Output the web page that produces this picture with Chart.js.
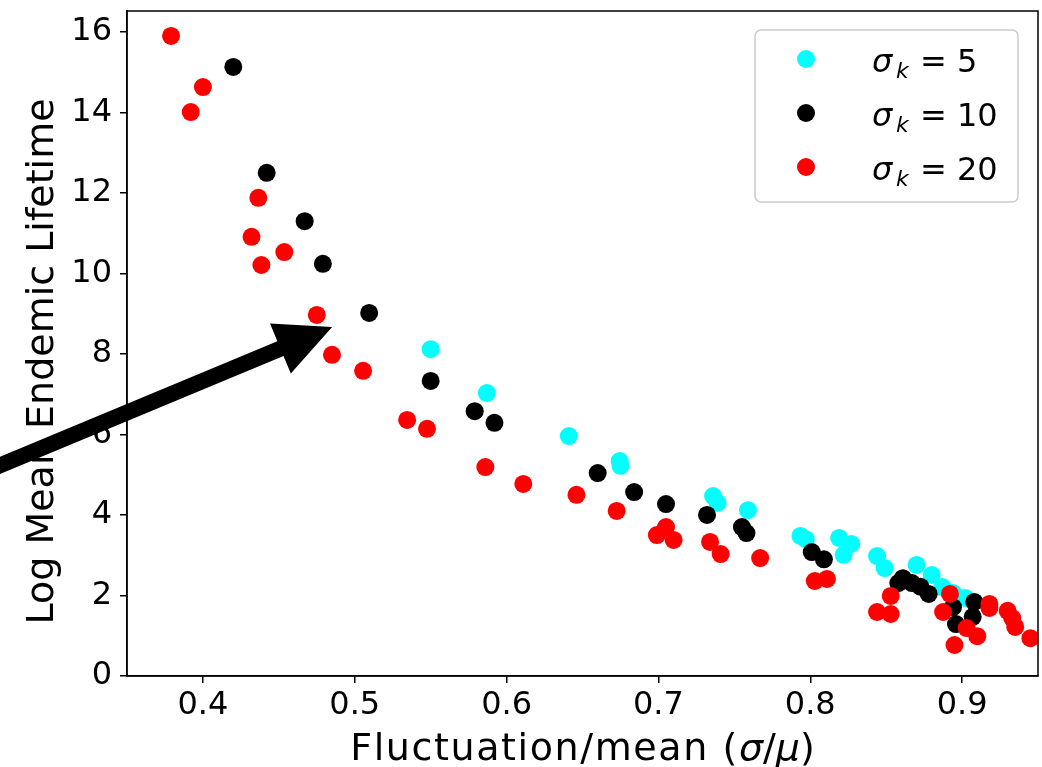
<!DOCTYPE html>
<html>
<head>
<meta charset="utf-8">
<script src="https://cdn.jsdelivr.net/npm/chart.js@4.4.1/dist/chart.umd.min.js"></script>
<style>
  html, body { margin: 0; padding: 0; background: #fff; }
  #wrap { width: 1042px; height: 767px; }
</style>
</head>
<body>
<div id="wrap"><canvas id="grafico"></canvas></div>
<script>
// Datos (x = sigma/mu, y = log del tiempo de vida medio)
const cianX = [0.550, 0.587, 0.641, 0.6745, 0.675, 0.736, 0.739, 0.759, 0.7935, 0.797, 0.819, 0.827, 0.822, 0.844, 0.849, 0.870, 0.880, 0.887, 0.894, 0.902];
const cianY = [8.12, 7.03, 5.96, 5.34, 5.22, 4.47, 4.30, 4.12, 3.48, 3.40, 3.43, 3.28, 3.01, 2.98, 2.68, 2.76, 2.51, 2.21, 2.06, 1.94];

const negroX = [0.420, 0.442, 0.467, 0.479, 0.5095, 0.550, 0.579, 0.592, 0.660, 0.684, 0.705, 0.732, 0.755, 0.758, 0.801, 0.809, 0.861, 0.858, 0.867, 0.8725, 0.878, 0.894, 0.896, 0.908, 0.907];
const negroY = [15.13, 12.50, 11.30, 10.24, 9.02, 7.33, 6.58, 6.29, 5.04, 4.57, 4.27, 4.00, 3.70, 3.55, 3.08, 2.90, 2.43, 2.31, 2.31, 2.22, 2.04, 1.71, 1.29, 1.84, 1.47];

const rojoX = [0.379, 0.392, 0.400, 0.432, 0.4365, 0.4385, 0.4536, 0.475, 0.485, 0.5055, 0.5345, 0.5476, 0.586, 0.611, 0.646, 0.6725, 0.699, 0.705, 0.710, 0.734, 0.741, 0.767, 0.803, 0.811, 0.853, 0.844, 0.853, 0.892, 0.8875, 0.895, 0.903, 0.910, 0.918, 0.918, 0.930, 0.933, 0.935, 0.945];
const rojoY = [15.90, 14.01, 14.63, 10.91, 11.88, 10.21, 10.53, 8.97, 7.98, 7.58, 6.36, 6.14, 5.19, 4.77, 4.50, 4.10, 3.50, 3.70, 3.38, 3.33, 3.03, 2.93, 2.36, 2.41, 1.99, 1.59, 1.54, 2.04, 1.59, 0.77, 1.19, 0.99, 1.79, 1.69, 1.62, 1.44, 1.22, 0.94];

const series = [
  { etiqueta: '5', xs: cianX, ys: cianY, color: '#00ffff' },
  { etiqueta: '10', xs: negroX, ys: negroY, color: '#000000' },
  { etiqueta: '20', xs: rojoX, ys: rojoY, color: '#ff0000' }
];

const ticksX = [0.4, 0.5, 0.6, 0.7, 0.8, 0.9];
const ticksY = [0, 2, 4, 6, 8, 10, 12, 14, 16];

// Flecha de anotacion (cola -> punta), en coordenadas de datos
const flechaCola = [0.2669, 5.24];
const flechaPunta = [0.4851, 8.67];

const FUENTE = 'DejaVu Sans';

const datasets = series.map((s, i) => ({
  label: s.etiqueta,
  data: s.xs.map((x, j) => ({ x: x, y: s.ys[j] })),
  backgroundColor: s.color,
  borderColor: s.color,
  borderWidth: 0,
  pointRadius: 9,
  pointHoverRadius: 9,
  order: series.length - i // el rojo queda encima
}));

// Marco, titulos, leyenda y flecha
const decoraciones = {
  id: 'decoraciones',
  afterDraw(chart) {
    const ctx = chart.ctx;
    const ca = chart.chartArea;
    const sx = chart.scales.x;
    const sy = chart.scales.y;

    // marco del eje
    ctx.save();
    ctx.strokeStyle = '#000';
    ctx.lineWidth = 1.5;
    ctx.strokeRect(ca.left, ca.top, ca.right - ca.left, ca.bottom - ca.top);
    ctx.restore();

    // titulo eje Y
    ctx.save();
    ctx.fillStyle = '#000';
    ctx.font = '38px ' + FUENTE;
    ctx.textAlign = 'center';
    ctx.textBaseline = 'middle';
    ctx.translate(43, (ca.top + ca.bottom) / 2 + 18);
    ctx.rotate(-Math.PI / 2);
    ctx.fillText('Log Mean Endemic Lifetime', 0, 0);
    ctx.restore();

    // titulo eje X con sigma/mu en cursiva
    ctx.save();
    ctx.fillStyle = '#000';
    ctx.textBaseline = 'alphabetic';
    const partes = [
      { t: 'Fluctuation/mean (', f: '38px ' + FUENTE, esp: '1.6px' },
      { t: 'σ', f: 'italic 38px ' + FUENTE, esp: '0px' },
      { t: '/', f: '38px ' + FUENTE, esp: '0px' },
      { t: 'μ', f: 'italic 38px ' + FUENTE, esp: '0px' },
      { t: ')', f: '38px ' + FUENTE, esp: '0px' }
    ];
    let total = 0;
    partes.forEach(p => { ctx.font = p.f; ctx.letterSpacing = p.esp; p.w = ctx.measureText(p.t).width; total += p.w; });
    let px = (ca.left + ca.right) / 2 - total / 2;
    partes.forEach(p => { ctx.font = p.f; ctx.letterSpacing = p.esp; ctx.fillText(p.t, px, 760); px += p.w; });
    ctx.restore();

    // leyenda
    ctx.save();
    const bx = ca.right - 283, by = ca.top + 19, bw = 263, bh = 172;
    ctx.beginPath();
    ctx.roundRect(bx, by, bw, bh, 6);
    ctx.fillStyle = 'rgba(255,255,255,0.85)';
    ctx.fill();
    ctx.strokeStyle = '#cccccc';
    ctx.lineWidth = 1.5;
    ctx.stroke();
    const filas = [by + 29, by + 83, by + 137];
    series.forEach((s, i) => {
      const fy = filas[i];
      ctx.beginPath();
      ctx.arc(bx + 51, fy, 9, 0, Math.PI * 2);
      ctx.fillStyle = s.color;
      ctx.fill();
      ctx.fillStyle = '#000';
      ctx.textBaseline = 'alphabetic';
      const base = fy + 13;
      ctx.font = 'italic 32px ' + FUENTE;
      ctx.fillText('σ', bx + 117, base);
      ctx.font = 'italic 22px ' + FUENTE;
      ctx.fillText('k', bx + 141, base + 6);
      ctx.font = '32px ' + FUENTE;
      ctx.fillText('=', bx + 165, base);
      ctx.fillText(s.etiqueta, bx + 202, base);
    });
    ctx.restore();

    // flecha
    ctx.save();
    const x0 = sx.getPixelForValue(flechaCola[0]);
    const y0 = sy.getPixelForValue(flechaCola[1]);
    const x1 = sx.getPixelForValue(flechaPunta[0]);
    const y1 = sy.getPixelForValue(flechaPunta[1]);
    const ang = Math.atan2(y1 - y0, x1 - x0);
    const largo = Math.hypot(x1 - x0, y1 - y0);
    ctx.translate(x0, y0);
    ctx.rotate(ang);
    const cabeza = 56, medio = 8, ala = 27;
    ctx.beginPath();
    ctx.moveTo(-20, -medio);
    ctx.lineTo(largo - cabeza, -medio);
    ctx.lineTo(largo - cabeza, -ala);
    ctx.lineTo(largo, 0);
    ctx.lineTo(largo - cabeza, ala);
    ctx.lineTo(largo - cabeza, medio);
    ctx.lineTo(-20, medio);
    ctx.closePath();
    ctx.fillStyle = '#000';
    ctx.fill();
    ctx.restore();
  }
};

const ctx = document.getElementById('grafico').getContext('2d');
new Chart(ctx, {
  type: 'scatter',
  data: { datasets: datasets },
  options: {
    responsive: true,
    maintainAspectRatio: false,
    animation: false,
    layout: { autoPadding: false, padding: { top: 11, right: 4, left: 0, bottom: 0 } },
    plugins: {
      legend: { display: false },
      tooltip: { enabled: false }
    },
    scales: {
      x: {
        type: 'linear',
        min: 0.35,
        max: 0.95,
        afterBuildTicks: (scale) => { scale.ticks = ticksX.map(v => ({ value: v })); },
        afterFit: (scale) => {
          scale.height = 91;
          scale.paddingLeft = 0; scale.paddingRight = 0;
          scale.paddingTop = 0; scale.paddingBottom = 0;
        },
        grid: { drawOnChartArea: false, drawTicks: true, tickLength: 7, color: '#000', lineWidth: 1.5 },
        border: { display: true, color: '#000', width: 1.5 },
        ticks: {
          color: '#000',
          font: { family: FUENTE, size: 32 },
          padding: 3,
          maxRotation: 0,
          autoSkip: false,
          callback: (v) => Number(v).toFixed(1)
        },
        title: { display: false }
      },
      y: {
        type: 'linear',
        min: 0,
        max: 16.52,
        afterBuildTicks: (scale) => { scale.ticks = ticksY.map(v => ({ value: v })); },
        afterFit: (scale) => {
          scale.width = 127;
          scale.paddingLeft = 0; scale.paddingRight = 0;
          scale.paddingTop = 0; scale.paddingBottom = 0;
        },
        grid: { drawOnChartArea: false, drawTicks: true, tickLength: 7, color: '#000', lineWidth: 1.5 },
        border: { display: true, color: '#000', width: 1.5 },
        ticks: {
          color: '#000',
          font: { family: FUENTE, size: 32 },
          padding: 8,
          autoSkip: false,
          callback: (v) => String(v)
        },
        title: { display: false }
      }
    }
  },
  plugins: [decoraciones]
});
</script>
</body>
</html>
